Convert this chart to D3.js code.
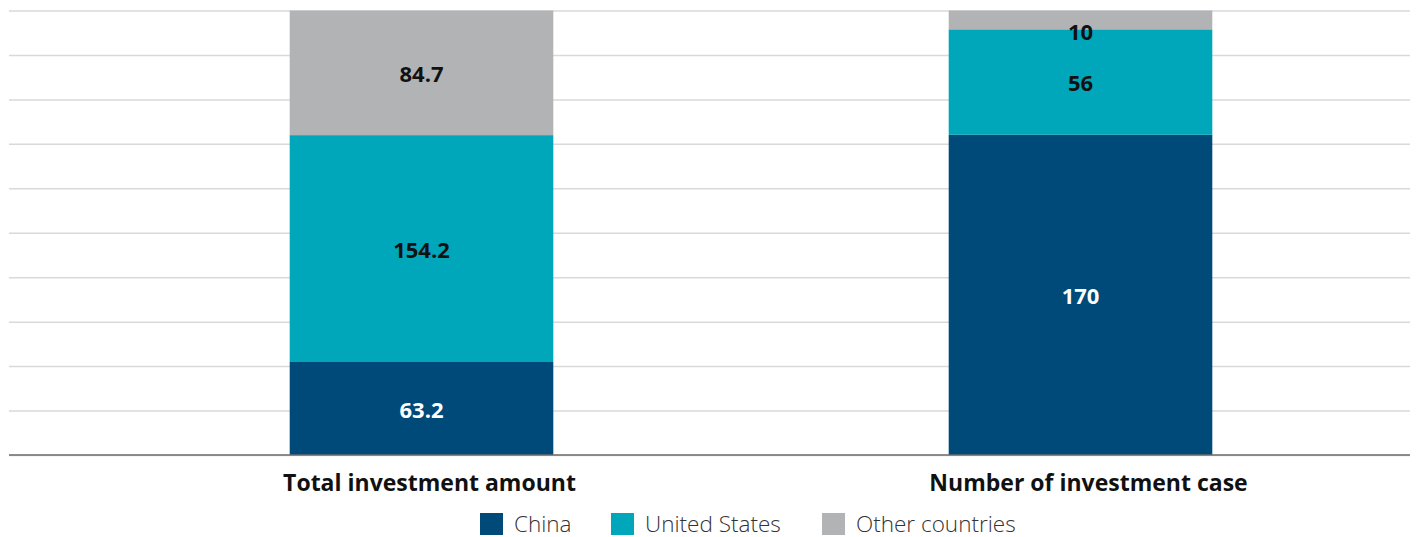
<!DOCTYPE html>
<html>
<head>
<meta charset="utf-8">
<script src="https://cdn.jsdelivr.net/npm/d3@7"></script>
<style>
  html, body { margin: 0; padding: 0; background: #fff; }
  svg { display: block; font-family: "Open Sans", "Noto Sans", sans-serif; }
</style>
</head>
<body>
<svg id="chart" width="1416" height="537"></svg>
<script>
// Chart data
const categories = ["Total investment amount", "Number of investment case"];
const seriesNames = ["China", "United States", "Other countries"];
const china = [63.2, 170];
const unitedStates = [154.2, 56];
const otherCountries = [84.7, 10];
const valueLabels = [["63.2", "154.2", "84.7"], ["170", "56", "10"]];
const colors = ["#004a7a", "#00a6b9", "#b2b3b5"];
const labelColors = ["#ffffff", "#111111", "#111111"];

const svg = d3.select("#chart");
const margin = { top: 10.5, bottom: 82, gridLeft: 9, gridRight: 1410 };
const plotBottom = 537 - margin.bottom;

// Rows with each series as share of the bar total (100% stacked)
const rows = categories.map((c, i) => {
  const vals = [china[i], unitedStates[i], otherCountries[i]];
  const total = d3.sum(vals);
  const row = { category: c, index: i };
  seriesNames.forEach((s, k) => { row[s] = vals[k] / total; });
  return row;
});

const layers = d3.stack().keys(seriesNames)(rows);

const x = d3.scaleBand()
  .domain(categories)
  .range([92, 1410])
  .paddingInner(0.6)
  .paddingOuter(0.3);

const y = d3.scaleLinear()
  .domain([0, 1])
  .range([plotBottom, margin.top]);

// Horizontal gridlines every 10%
const grid = d3.axisLeft(y)
  .ticks(10)
  .tickSize(-(margin.gridRight - margin.gridLeft))
  .tickFormat("");
const gg = svg.append("g")
  .attr("transform", `translate(${margin.gridLeft},0)`)
  .call(grid);
gg.select(".domain").remove();
gg.selectAll(".tick line").attr("stroke", "#d9d9d9").attr("stroke-width", 1.5);

// Stacked bars
const layerG = svg.selectAll("g.layer")
  .data(layers)
  .join("g")
  .attr("class", "layer")
  .attr("fill", (d, i) => colors[i]);

layerG.selectAll("rect")
  .data(d => d)
  .join("rect")
  .attr("x", d => x(d.data.category))
  .attr("width", x.bandwidth())
  .attr("y", d => y(d[1]))
  .attr("height", d => y(d[0]) - y(d[1]));

// Value labels centred in each segment; thin segments push the label down
layers.forEach((layer, k) => {
  svg.append("g").selectAll("text")
    .data(layer)
    .join("text")
    .attr("x", d => x(d.data.category) + x.bandwidth() / 2)
    .attr("y", d => Math.max((y(d[0]) + y(d[1])) / 2, y(d[1]) + 20))
    .attr("text-anchor", "middle")
    .attr("dominant-baseline", "central")
    .attr("font-size", 22)
    .attr("font-weight", 700)
    .attr("fill", labelColors[k])
    .text(d => valueLabels[d.data.index][k]);
});

// Baseline axis with category labels
const xAxis = d3.axisBottom(x).tickSize(0).tickPadding(20);
const ax = svg.append("g")
  .attr("transform", `translate(0,${plotBottom})`)
  .call(xAxis);
ax.select(".domain").remove();
ax.append("line")
  .attr("x1", margin.gridLeft).attr("x2", margin.gridRight)
  .attr("y1", 0).attr("y2", 0)
  .attr("stroke", "#6b6b6b").attr("stroke-width", 1.5);
ax.selectAll(".tick text")
  .attr("dx", 8)
  .attr("font-family", "'Open Sans', 'Noto Sans', sans-serif")
  .attr("font-size", 23)
  .attr("font-weight", 700)
  .attr("fill", "#111");

// Legend
const legend = svg.append("g").attr("transform", "translate(0,522)");
const legendX = [480, 611, 822];
seriesNames.forEach((s, i) => {
  const g = legend.append("g").attr("transform", `translate(${legendX[i]},0)`);
  g.append("rect").attr("x", 0).attr("y", -9).attr("width", 23).attr("height", 22).attr("fill", colors[i]);
  g.append("text")
    .attr("x", 34).attr("y", 1)
    .attr("dominant-baseline", "central")
    .attr("font-size", 22.5)
    .attr("font-weight", 300)
    .attr("fill", "#333")
    .text(s);
});
</script>
</body>
</html>
